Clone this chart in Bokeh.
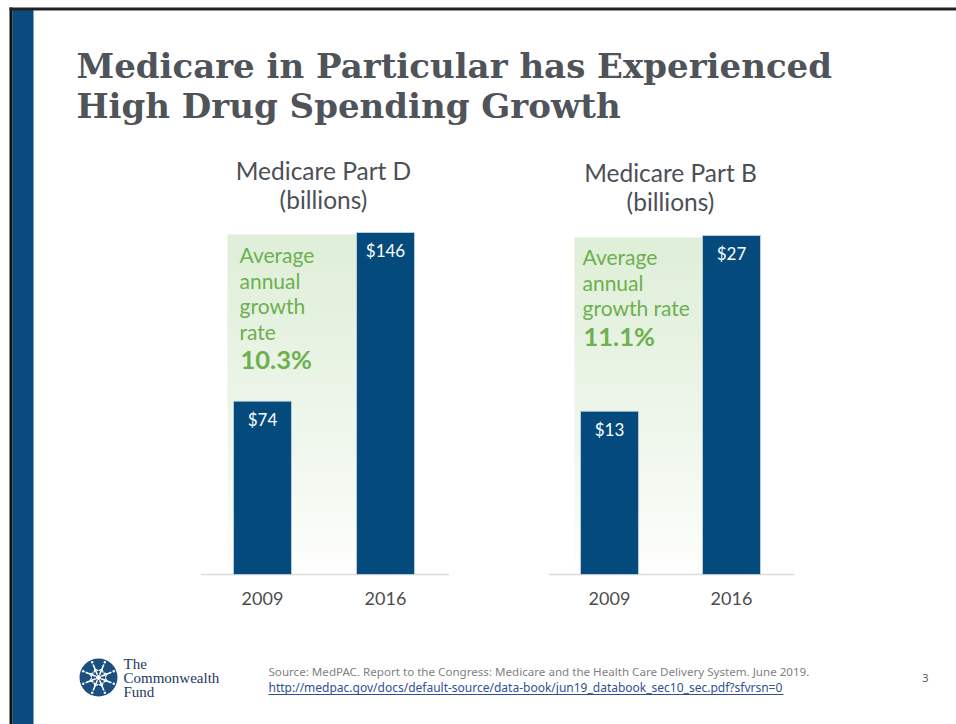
from bokeh.plotting import figure
from bokeh.models import Range1d
from bokeh.core.properties import value
from bokeh.embed import file_html
from bokeh.resources import INLINE
import numpy as np

# ---------------- data ----------------
years = ["2009", "2016"]
part_d_spending = [74, 146]   # billions
part_b_spending = [13, 27]    # billions
part_d_growth = "10.3%"
part_b_growth = "11.1%"
chart_titles = ["Medicare Part D", "Medicare Part B"]
title_lines = ["Medicare in Particular has Experienced", "High Drug Spending Growth"]
source_line = "Source: MedPAC. Report to the Congress: Medicare and the Health Care Delivery System.  June 2019."
source_url = "http://medpac.gov/docs/default-source/data-book/jun19_databook_sec10_sec.pdf?sfvrsn=0"

W, H = 956, 724
BAR_BLUE = "#044a7d"
GREEN = "#6cb04f"
GRAY_TXT = "#4b4f56"
SANS = "Lato"

p = figure(width=W, height=H, x_range=Range1d(0, W), y_range=Range1d(H, 0),
           output_backend="svg", toolbar_location=None, min_border=0,
           x_axis_location=None, y_axis_location=None)
p.grid.visible = False
p.outline_line_color = None
p.background_fill_color = "white"
p.border_fill_color = "white"

# ---------------- slide frame ----------------
p.quad(left=[12], right=[33], top=[9], bottom=[H], fill_color="#0b4a7f", line_color=None)
p.quad(left=[9], right=[12], top=[7], bottom=[H], fill_color="#111111", line_color=None)
p.quad(left=[9], right=[W], top=[7], bottom=[10], fill_color="#222222", line_color=None)

# title
for i, line in enumerate(title_lines):
    p.text(x=[76], y=[65 + 40 * i], text=[line], text_font=value("DejaVu Serif"),
           text_font_style="bold", text_font_size="34px", text_color="#4f535a",
           text_baseline="alphabetic", text_align="left")


def bar_chart(values, name, center0, spacing, baseline, ppu, title, growth_lines, growth,
              gx, gy, title_cx, title_cy):
    xr, yr = name + "_x", name + "_y"
    p.extra_x_ranges[xr] = Range1d(-center0 / spacing, (W - center0) / spacing)
    p.extra_y_ranges[yr] = Range1d(-(H - baseline) / ppu, baseline / ppu)
    idx = list(range(len(values)))
    bw = 58 / spacing
    # green gradient background
    n = 64
    grad = np.zeros((n, 1), dtype=np.uint32)
    view = grad.view(dtype=np.uint8).reshape((n, 1, 4))
    top_c = np.array([224, 239, 217])
    for k in range(n):
        t = k / (n - 1)   # 0 bottom -> 1 top
        c = 255 - (255 - top_c) * (t ** 0.8)
        view[k, 0, 0:3] = c.astype(np.uint8)
        view[k, 0, 3] = 255
    x0 = idx[0] - bw / 2 - 6 / spacing
    x1 = idx[-1] - bw / 2
    ytop = max(values) - 2 / ppu
    p.image_rgba(image=[grad], x=x0, y=0, dw=x1 - x0, dh=ytop,
                 x_range_name=xr, y_range_name=yr)
    # baseline
    p.segment(x0=[-0.5], x1=[idx[-1] + 0.5 + 2 / spacing], y0=[0], y1=[0],
              line_color="#dcdcdc", line_width=1.5, x_range_name=xr, y_range_name=yr)
    # bars
    p.vbar(x=idx, top=values, width=bw, bottom=0, fill_color=BAR_BLUE,
           line_color="#c9d6e3", line_width=0.8, x_range_name=xr, y_range_name=yr)
    # value labels
    p.text(x=idx, y=values, text=["$%d" % v for v in values], y_offset=18,
           text_color="white", text_font=value(SANS), text_font_size="17px",
           text_align="center", text_baseline="middle", x_range_name=xr, y_range_name=yr)
    # year labels
    p.text(x=idx, y=[0, 0], text=years, y_offset=24, text_color="#4d4d4d",
           text_font=value(SANS), text_font_size="18px", text_align="center",
           text_baseline="middle", x_range_name=xr, y_range_name=yr)
    # chart title
    p.text(x=[title_cx, title_cx], y=[title_cy, title_cy + 29], text=[title, "(billions)"],
           text_color=GRAY_TXT, text_font=value(SANS), text_font_size="24.5px",
           text_align="center", text_baseline="middle")
    # growth annotation
    ys = [gy + 25.5 * k for k in range(len(growth_lines))]
    p.text(x=[gx] * len(ys), y=ys, text=growth_lines, text_color=GREEN,
           text_font=value(SANS), text_font_size="21px", text_align="left",
           text_baseline="middle")
    p.text(x=[gx + 1], y=[ys[-1] + 28], text=[growth], text_color=GREEN,
           text_font=value(SANS), text_font_style="bold", text_font_size="25.5px",
           text_align="left", text_baseline="middle")


bar_chart(part_d_spending, "d", 262, 123, 574, 342 / 146, chart_titles[0],
          ["Average", "annual", "growth", "rate"], part_d_growth, 239, 254, 323, 170)
bar_chart(part_b_spending, "b", 609, 122, 574, 339 / 27, chart_titles[1],
          ["Average", "annual", "growth rate"], part_b_growth, 582, 256, 670, 172)

# ---------------- footer ----------------
cx, cy, r = 98, 677, 19
p.circle(x=[cx], y=[cy], radius=r, fill_color="#1b4f80", line_color=None)
ang = np.linspace(0, 2 * np.pi, 8, endpoint=False) + np.pi / 8
p.multi_line(xs=[[cx + 3 * np.cos(a), cx + 14 * np.cos(a)] for a in ang],
             ys=[[cy + 3 * np.sin(a), cy + 14 * np.sin(a)] for a in ang],
             line_color="white", line_width=1.6)
p.multi_line(xs=[[cx + 9 * np.cos(a) + 3.5 * np.cos(a + s), cx + 9 * np.cos(a),
                  cx + 9 * np.cos(a) + 3.5 * np.cos(a - s)] for a in ang for s in [2.4]],
             ys=[[cy + 9 * np.sin(a) + 3.5 * np.sin(a + s), cy + 9 * np.sin(a),
                  cy + 9 * np.sin(a) + 3.5 * np.sin(a - s)] for a in ang for s in [2.4]],
             line_color="white", line_width=1.2)
p.scatter(x=list(cx + 16.5 * np.cos(ang)), y=list(cy + 16.5 * np.sin(ang)), size=2.5,
          fill_color="white", line_color=None)
p.circle(x=[cx], y=[cy], radius=2.5, fill_color="white", line_color=None)

p.text(x=[123, 123, 123], y=[663, 677, 691], text=["The", "Commonwealth", "Fund"],
       text_font=value("Liberation Serif"), text_font_size="15px", text_color="#23395d",
       text_baseline="middle", text_align="left")

p.text(x=[268], y=[671], text=[source_line], text_font=value("Noto Sans"),
       text_font_size="11.6px", text_color="#7f7f7f", text_baseline="middle")
p.text(x=[268], y=[687], text=[source_url], text_font=value("Noto Sans"),
       text_font_size="12px", text_color="#2f4f96", text_baseline="middle")
p.segment(x0=[268], x1=[783], y0=[694], y1=[694], line_color="#2f4f96", line_width=1)

p.text(x=[925], y=[677], text=["3"], text_font=value("Noto Sans"), text_font_size="11px",
       text_color="#595959", text_baseline="middle", text_align="center")

open("out.html", "w").write(file_html(p, INLINE))
